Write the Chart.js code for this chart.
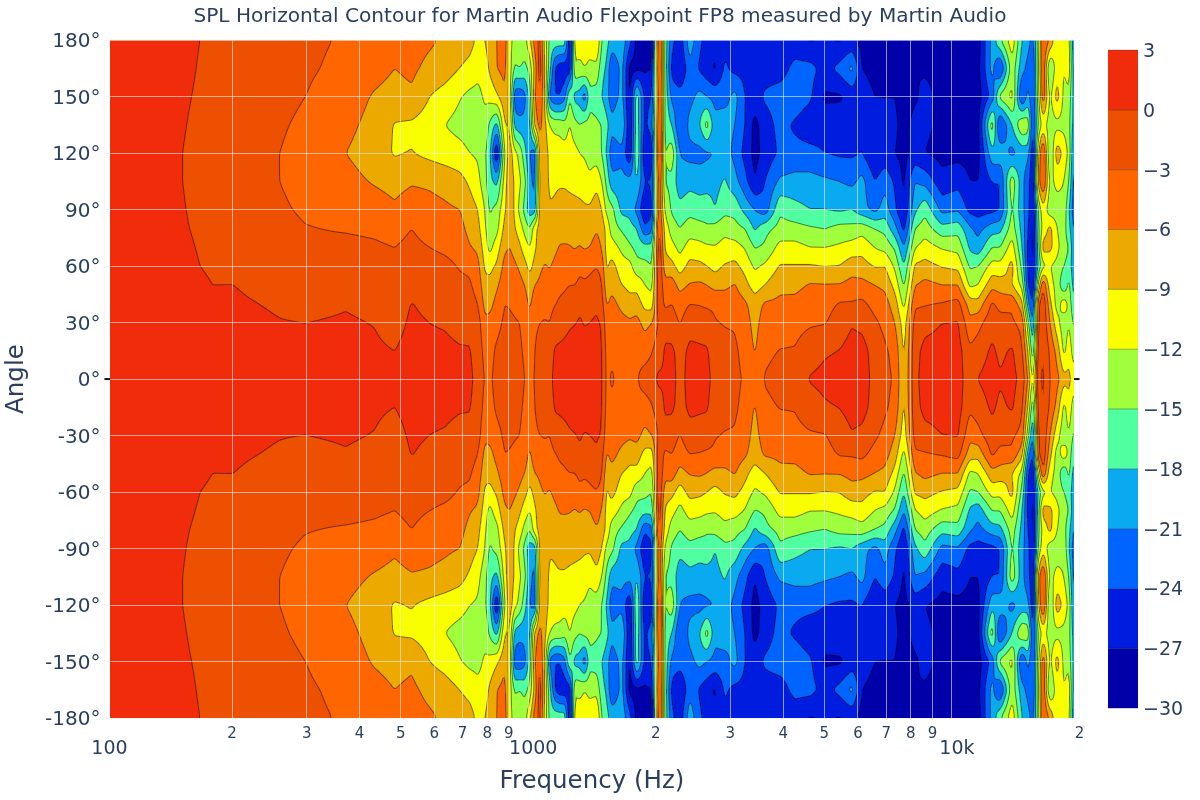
<!DOCTYPE html>
<html><head><meta charset="utf-8">
<script src="https://cdn.jsdelivr.net/npm/chart.js@4"></script>
<style>html,body{margin:0;padding:0;background:#fff}canvas{display:block}</style>
</head><body><canvas id="c" width="1200" height="800"></canvas>
<script>
const titleText="SPL Horizontal Contour for Martin Audio Flexpoint FP8 measured by Martin Audio";
const angles=[0,15,30,40,50,60,70,80,90,105,120,135,150,165,180];
const frequencies=[103,128,150,168,180,200,259,298,371,434,484,531,585,635,689,728,760,790,811,843,880,904,929,955,981,1008,1036,1065,1094,1124,1155,1187,1219,1253,1288,1323,1359,1397,1451,1491,1532,1575,1663,1737,1804,1884,1957,2022,2044,2101,2182,2279,2406,2541,2640,2757,2911,3074,3245,3426,3618,3926,4259,4621,5013,5439,5806,6131,6580,6947,7335,7703,8178,8635,9471,10332,11028,11519,12433,12983,13860,14634,15118,15536,15959,16401,17038,17701,18390,18893,19410];
// SPL (dB) at each frequency, one value per entry of angles
const f103=[2,2,2,2,2,2,2,2,2,2,2,2,2,2,2];
const f128=[2,2,2,2,2,1.8,1.6,1.4,1.3,1.2,1.2,1.3,1.4,1.6,1.6];
const f150=[2,2,2,2,2,1.5,1,.6,.4,.2,.2,.4,.6,.9,1];
const f168=[2,2,1.5,1.2,.7,0,-.3,-.6,-.8,-1,-1,-.7,-.4,-.2,0];
const f180=[1.8,1.5,1,.6,0,-.6,-.9,-1,-1.2,-1.4,-1.4,-1.2,-.9,-.7,-.5];
const f200=[1.5,1,.7,.4,.05,-.9,-1.1,-1.3,-1.5,-1.7,-1.8,-1.6,-1.3,-1.2,-1];
const f259=[1.3,.8,.1,-.3,-1,-1.6,-2,-2.4,-2.7,-3,-3,-2.7,-2.3,-2,-1.8];
const f298=[1,.6,0,-.8,-1.4,-2,-2.5,-2.9,-3.3,-3.7,-3.9,-3.5,-3,-2.6,-2.4];
const f371=[1.2,.8,.3,-.2,-1.2,-1.9,-2.4,-3.2,-3.9,-5,-6,-5.2,-4.5,-3.7,-3.3];
const f434=[1,.4,-.1,-.7,-1.4,-2,-2.7,-3.4,-4.5,-6.3,-7.5,-7,-6.3,-5,-4];
const f484=[.8,0,-1,-1.5,-2,-2.5,-3,-3.8,-5.5,-7,-9.3,-9.2,-7,-6,-4.6];
const f531=[1.4,1,.5,.1,-1.1,-1.8,-2.4,-3,-4.4,-6.3,-8.9,-9.5,-6.5,-5.4,-4.8];
const f585=[1,.5,0,-.7,-1.3,-2,-3,-4,-5,-6.5,-9.8,-10.5,-9,-6.8,-5.5];
const f635=[1,.5,-.2,-1,-1.8,-2.3,-3.5,-4.5,-5.5,-7,-10.5,-12,-10.2,-7.5,-6.5];
const f689=[.8,.2,-.7,-1.5,-2.4,-3.2,-4,-5,-6,-8,-11,-13,-11.8,-9,-7.5];
const f728=[.5,.1,-.5,-2,-2.7,-3.5,-5.8,-7,-7.7,-9.5,-12,-13.5,-12.8,-9.8,-8];
const f760=[-.8,-1,-1.5,-3,-4,-5,-6.7,-8,-9,-11,-12.5,-14,-13,-11,-9.5];
const f790=[-3.2,-4,-5.5,-6.8,-8,-9.5,-10.5,-11.5,-12,-14,-14.5,-13,-11.5,-10.5,-9];
const f811=[-3.5,-4,-5,-7,-8,-10,-13,-14,-15.5,-17,-17,-15.5,-11,-8.5,-7.5];
const f843=[-2,-2.5,-3.8,-5,-6.5,-8.5,-10.5,-13,-14,-19,-28,-19,-9.5,-6,-6];
const f880=[-1.5,-2,-2.5,-3,-4,-5,-6.5,-8,-9.5,-10.5,-12,-9,-6.5,-5,-4];
const f904=[-1.5,-2,-2.5,-3.2,-4,-4.8,-6,-6.2,-6.5,-6.5,-7,-9,-10,-10.5,-11];
const f929=[-1.5,-2,-2.8,-3.5,-4.5,-5.5,-7,-8.8,-9.5,-9.5,-11,-19,-23,-15.5,-13];
const f955=[-2,-2.5,-3,-3.8,-5,-6.5,-8.5,-10.5,-13,-11.5,-13,-20,-23.5,-15,-11.8];
const f981=[-3,-3.5,-4,-4.8,-6,-8,-10.5,-13,-16,-14,-17,-20,-22,-16,-13];
const f1008=[-4,-4.5,-5,-6.5,-7.5,-10,-12,-15,-20,-20,-21,-19,-17,-14,-9.5];
const f1036=[-2.8,-3,-3.5,-4.5,-6,-8,-9.5,-10,-20,-22,-23,-8,-6,-8,-4.5];
const f1065=[-2,-2,-3,-4.3,-5.5,-6.5,-7.5,-7.8,-7.5,-8,-7,-5,-3,-1,-2];
const f1094=[-1,-1.5,-2.8,-3.8,-4.8,-5.8,-7,-7.3,-7.5,-7.5,-7,-8,-9,-9,-10];
const f1124=[-.8,-1.5,-3,-4,-5,-6.2,-7,-8,-8.8,-9.5,-10,-12,-22,-17,-16];
const f1155=[.8,.3,-1.5,-3.2,-4,-5.5,-6.5,-7.8,-8.5,-9.5,-10,-13,-24,-24,-16];
const f1187=[1,.5,-1.2,-2.6,-3.6,-5,-5.8,-7,-7.5,-9.5,-10.5,-13,-24,-26,-16];
const f1219=[1.2,.7,-.8,-2.4,-3.3,-4.8,-5.8,-6.8,-7.5,-9.5,-10.5,-14,-22,-26,-16];
const f1253=[1.3,.9,-.3,-2,-3,-4.5,-5.9,-6.8,-7.8,-9.8,-10.3,-11.8,-15,-26,-27];
const f1288=[1.4,1,-.1,-1.8,-3,-4.6,-6.2,-7,-8,-10,-11,-14,-19,-12.5,-10.5];
const f1323=[1.5,1.2,.3,-.4,-2.4,-3.6,-5.9,-6.8,-8,-10.5,-12,-15,-19.5,-13,-10];
const f1359=[1.5,1.2,-.2,-1.2,-2.6,-4,-6.3,-7.2,-8.5,-10.8,-12.3,-14,-23,-12,-10];
const f1397=[1.5,1.2,0,-.8,-2.2,-3.7,-6,-7,-8.5,-11.5,-13,-14,-16,-13,-10];
const f1451=[1.4,1.1,.3,-.3,-1.2,-3.2,-5,-6.2,-7,-10,-13.5,-14.5,-16.5,-13,-8.5];
const f1491=[.3,.2,-.2,-1.8,-2.8,-4.2,-6.2,-7,-9,-12,-15,-15,-18,-17,-15];
const f1532=[-3.7,-3.9,-5,-6.3,-8,-9.5,-10,-10,-13,-16,-18.5,-17,-20,-18.5,-17];
const f1575=[-2.6,-3.5,-4.5,-5,-7,-8,-10.5,-13.5,-14,-20,-23,-20,-23,-24,-19];
const f1663=[-4.3,-4.6,-5,-6.8,-9,-10.5,-12.8,-15.5,-19,-20,-22,-18,-20,-20,-19];
const f1737=[-4.2,-4.5,-5.5,-8,-9.8,-11,-14.5,-17,-19,-20,-27,-27,-28,-28,-23];
const f1804=[-3.2,-3.5,-5,-7.5,-10,-14,-16,-18,-22,-18,-15,-16,-16,-28,-28];
const f1884=[-2,-4,-7,-10,-12,-14,-17,-23.5,-27,-24,-27,-25,-25,-27.5,-28];
const f1957=[-1.5,-3.2,-6,-10.5,-13,-15,-17,-22,-25,-23.5,-27,-22,-24,-27,-28];
const f2022=[.5,-1.5,-3,-2,-2,-2,-3,-4,-7,-7,-4,-6,-7,-5,-7];
const f2044=[1,-2.5,-2.5,-1,-.5,-.8,-1.5,-2.5,-4,-3,-1,-1,-2,-1,-1];
const f2101=[.8,.6,-1.5,-3.5,-5,-7.5,-9.3,-10,-12.5,-15,-15.5,-16,-15.5,-16,-16];
const f2182=[1,.5,-1.5,-3,-4.5,-8,-11,-13.5,-15.5,-16,-13,-18,-22,-25,-23];
const f2279=[-1,-1,-3.2,-4.5,-7,-10.5,-13,-15,-17,-20,-21,-24.5,-22.5,-27.5,-26];
const f2406=[1,.6,-1,-3,-5.8,-8,-10.7,-13.5,-16,-19,-22,-20,-22,-22,-19];
const f2541=[.9,.4,-1.2,-3.2,-5.5,-8.3,-11,-14,-16.5,-19.5,-22,-18,-20,-24.5,-23.5];
const f2640=[.8,.3,-1.5,-3.5,-6,-9,-11.5,-14.7,-16,-19.5,-21.5,-13.5,-21,-26,-25];
const f2757=[-1,-1.5,-2.8,-3.5,-7,-10,-11.8,-14,-18,-19,-21,-20,-22,-27.5,-26];
const f2911=[-1.5,-2,-3.2,-4.5,-6.6,-8.7,-11,-12.8,-16,-17.7,-19.5,-19.5,-22,-23.5,-25];
const f3074=[-2.2,-2.5,-3.3,-4.4,-5.8,-8.2,-10.8,-14,-16,-20,-22,-21,-20,-25,-25.5];
const f3245=[-3.4,-4,-4.7,-5.5,-8,-10,-12.2,-15,-19,-23,-25,-24,-24,-25,-26];
const f3426=[-5,-6.2,-7,-7.5,-10.5,-12.5,-15.2,-18.5,-21,-27,-28,-28,-25.5,-27,-27];
const f3618=[-2.8,-3.6,-4.6,-5.6,-9,-11.5,-14.5,-16,-23,-24,-26,-25.5,-23.5,-25.5,-27];
const f3926=[-2,-2.9,-4.3,-5.4,-6.7,-8.8,-11,-14,-15.5,-20.5,-23.5,-23,-22.5,-25.5,-27];
const f4259=[-1.7,-2.8,-4,-5.2,-6.8,-8.8,-11,-14,-17,-20,-23,-24.5,-22,-23,-26];
const f4621=[.2,-1.2,-3.4,-4.6,-5.7,-8.7,-12,-14.6,-18,-20,-23,-26,-23.5,-23,-27.5];
const f5013=[.7,-.3,-3.2,-4.1,-5.8,-9.1,-12,-15.1,-18,-20.5,-24,-25.5,-27.5,-25,-27];
const f5439=[.9,.1,-1.5,-2.7,-5.8,-8.9,-11.5,-14,-18.5,-21,-24.5,-25,-27.5,-23,-27.5];
const f5806=[1.3,1,-.2,-2.7,-5,-7.3,-10.8,-14,-18,-21.7,-24.5,-25,-26,-20,-26.5];
const f6131=[1.5,1.2,-.8,-2.3,-5,-7.9,-10,-13.3,-20,-20,-24,-24,-25.5,-27,-28];
const f6580=[-1,-1.3,-2.5,-4,-6,-9.2,-12.1,-15,-22,-24,-27,-26,-27,-28,-29];
const f6947=[-2,-2.5,-3.8,-4.8,-6.7,-9,-13,-16,-19.5,-22,-26,-26.5,-27,-28.5,-29];
const f7335=[-3.5,-4,-6,-7.5,-10,-12.6,-15.5,-20,-23.5,-24.5,-27,-26.5,-27,-28.5,-29];
const f7703=[-9,-9.5,-10.5,-13,-15.5,-18,-21,-25,-27,-27.5,-28,-28,-28.5,-29,-29];
const f8178=[-.8,-.9,-1.8,-3.5,-6.2,-8.5,-12.3,-15,-18.8,-21,-26,-26,-27.5,-27,-28];
const f8635=[1.3,.8,-.9,-3.3,-5.1,-8,-10.6,-13.5,-15.8,-22,-27,-26.5,-26,-27.5,-27.5];
const f9471=[1.5,1,0,-2.8,-6,-9.2,-12.3,-17,-22,-26,-28,-27.5,-28,-28,-28];
const f10332=[1.5,1.2,.2,-2,-6,-9.8,-13,-16.2,-21.5,-25,-28,-28,-28,-28,-28];
const f11028=[-2,-2.4,-5.2,-7.5,-12.7,-15.5,-18.6,-20.5,-25,-27,-28,-28,-28.5,-28,-28.5];
const f11519=[.1,-1.5,-4,-8,-12,-15,-20,-22,-25.5,-27,-28,-28,-28.5,-28,-28.5];
const f12433=[1.3,.5,-1,-2.5,-7,-10.8,-15,-19.5,-25,-24,-19,-13,-23,-20,-20];
const f12983=[.3,-.6,-1.8,-4,-7.5,-11,-15,-19,-24,-24,-19,-25,-14,-25,-15];
const f13860=[1,.4,-2.5,-3.5,-9,-8,-10.5,-13.5,-14.5,-13,-22,-18,-11,-13,-10];
const f14634=[-1,-2.5,-4,-8,-13,-16,-18,-19,-20,-20,-20,-12,-25,-20,-18];
const f15118=[-6,-9,-14,-20,-24,-25,-25,-24,-23,-23,-20,-13,-20,-22,-20];
const f15536=[-13,-18,-22,-25,-27,-27,-28,-28,-28,-27,-27,-25,-24,-24,-22];
const f15959=[-1,-2,-3.5,-4,-12,-18,-17,-16,-15,-8,-10,-15,-14,-13,-14];
const f16401=[.5,.2,-.5,-.5,-3,-13,-7.5,-11,-10,-2,-1.5,-11,-3.5,-3,-3];
const f17038=[-3,-3.5,-6,-8,-11,-12,-8,-8,-14,-13,-16,-13.5,-13,-16,-6];
const f17701=[-5,-7,-11,-13.5,-13,-13,-11,-12,-13.5,-11,-7,-13,-7.5,-10,-12];
const f18390=[-8,-13,-14,-10,-18,-15,-14,-14,-13,-12,-10,-13,-13,-12,-10];
const f18893=[-8,-10,-12,-13,-14,-16,-15,-17,-18,-15,-13,-14,-13,-10,-11];
const f19410=[-11,-14,-16,-18,-20,-21,-21,-22,-23,-23,-22,-20,-20,-21,-22];
const splColumns=[f103,f128,f150,f168,f180,f200,f259,f298,f371,f434,f484,f531,f585,f635,f689,f728,f760,f790,f811,f843,f880,f904,f929,f955,f981,f1008,f1036,f1065,f1094,f1124,f1155,f1187,f1219,f1253,f1288,f1323,f1359,f1397,f1451,f1491,f1532,f1575,f1663,f1737,f1804,f1884,f1957,f2022,f2044,f2101,f2182,f2279,f2406,f2541,f2640,f2757,f2911,f3074,f3245,f3426,f3618,f3926,f4259,f4621,f5013,f5439,f5806,f6131,f6580,f6947,f7335,f7703,f8178,f8635,f9471,f10332,f11028,f11519,f12433,f12983,f13860,f14634,f15118,f15536,f15959,f16401,f17038,f17701,f18390,f18893,f19410];
const levels=[-30,-27,-24,-21,-18,-15,-12,-9,-6,-3,0,3];
const bandColors=[[0,0,170],[0,28,222],[0,100,255],[10,170,240],[80,255,160],[160,255,60],[250,255,0],[236,170,0],[255,102,0],[236,80,0],[240,44,10]];
const xTicks=[100,200,300,400,500,600,700,800,900,1000,2000,3000,4000,5000,6000,7000,8000,9000,10000,20000];
const xLabels={100:"100",200:"2",300:"3",400:"4",500:"5",600:"6",700:"7",800:"8",900:"9",1000:"1000",2000:"2",3000:"3",4000:"4",5000:"5",6000:"6",7000:"7",8000:"8",9000:"9",10000:"10k",20000:"2"};
const majorTicks=[100,1000,10000];
const ink="#2a3f5f", FONT="'DejaVu Sans',Verdana,sans-serif";

function rows(){ // measured half is mirrored about 0 deg
  const pts=[];
  frequencies.forEach((f,i)=>angles.forEach((a,j)=>{
    pts.push({x:f,y:a,v:splColumns[i][j]});
    if(a>0)pts.push({x:f,y:-a,v:splColumns[i][j]});
  }));
  return pts;
}
function noPad(s){s.paddingTop=0;s.paddingBottom=0;s.paddingLeft=0;s.paddingRight=0;}
function segIndex(arr,v){let i=0;while(i<arr.length-2&&arr[i+1]<v)i++;return i;}
const contour={id:'contour',
  beforeDatasetsDraw(chart){
    const X=chart.scales.x,Y=chart.scales.y,ctx=chart.ctx;
    const x0=Math.round(X.getPixelForValue(frequencies[0])),x1=Math.round(X.getPixelForValue(frequencies[frequencies.length-1]));
    const y0=Math.round(Y.getPixelForValue(180)),y1=Math.round(Y.getPixelForValue(-180));
    const w=x1-x0,h=y1-y0;
    const logF=frequencies.map(Math.log10);
    let F=new Float32Array(w*h);
    for(let py=0;py<h;py++){
      const a=Math.min(180,Math.abs(Y.getValueForPixel(y0+py+.5)));
      const j=segIndex(angles,a),tj=(a-angles[j])/(angles[j+1]-angles[j]);
      for(let px=0;px<w;px++){
        const lf=Math.log10(X.getValueForPixel(x0+px+.5));
        const c=Math.max(logF[0],Math.min(logF[logF.length-1],lf));
        const i=segIndex(logF,c),ti=(c-logF[i])/(logF[i+1]-logF[i]);
        const A=splColumns[i],B=splColumns[i+1];
        F[py*w+px]=(A[j]*(1-ti)+B[j]*ti)*(1-tj)+(A[j+1]*(1-ti)+B[j+1]*ti)*tj;
      }
    }
    const blur=(src,rx,ry)=>{
      const t=new Float32Array(w*h),o=new Float32Array(w*h);
      for(let y=0;y<h;y++)for(let x=0;x<w;x++){let s=0,n=0;for(let k=-rx;k<=rx;k++){const q=x+k;if(q>=0&&q<w){s+=src[y*w+q];n++;}}t[y*w+x]=s/n;}
      for(let y=0;y<h;y++)for(let x=0;x<w;x++){let s=0,n=0;for(let k=-ry;k<=ry;k++){const q=y+k;if(q>=0&&q<h){s+=t[q*w+x];n++;}}o[y*w+x]=s/n;}
      return o;};
    F=blur(blur(F,1,3),1,3);
    const off=document.createElement('canvas');off.width=w;off.height=h;
    const oc=off.getContext('2d'),img=oc.createImageData(w,h),D=img.data;
    for(let y=0;y<h;y++)for(let x=0;x<w;x++){
      const v=F[y*w+x];
      const xa=F[y*w+Math.min(w-1,x+1)]-F[y*w+Math.max(0,x-1)],ya=F[Math.min(h-1,y+1)*w+x]-F[Math.max(0,y-1)*w+x];
      const g=Math.max(1e-4,Math.hypot(xa,ya)/2);
      let b=Math.floor((v+30)/3);b=Math.max(0,Math.min(bandColors.length-1,b));
      const col=bandColors[b];
      const near=Math.round(v/3)*3;
      let al=0;
      if(near>-30&&near<3){const d=Math.abs(v-near)/g;al=Math.max(0,Math.min(1,1-d))*.5;}
      const k=y*w*4+x*4;
      D[k]=col[0]*(1-al);D[k+1]=col[1]*(1-al);D[k+2]=col[2]*(1-al);D[k+3]=255;
    }
    oc.putImageData(img,0,0);
    ctx.save();ctx.drawImage(off,x0,y0);ctx.restore();
    // colour bar, placed by its own axis
    const C=chart.scales.cb,bx=1108,bw=30;
    bandColors.forEach((c,i)=>{
      const t=C.getPixelForValue(levels[i+1]),bt=C.getPixelForValue(levels[i]);
      ctx.fillStyle=`rgb(${c})`;ctx.fillRect(bx,t,bw,bt-t);
    });
    ctx.fillStyle='rgba(0,0,0,.3)';
    levels.forEach(l=>ctx.fillRect(bx,C.getPixelForValue(l)-.5,bw,1));
  },
  beforeDraw(chart){
    const X=chart.scales.x;
    X.getLabelItems(chart.chartArea).forEach((it,i)=>{
      if(it.__moved)return;it.__moved=true;
      const t=it.options.translation;
      if(majorTicks.includes(X.ticks[i].value)){t[0]+=5;t[1]+=13;}
    });
    [chart.scales.y,chart.scales.cb].forEach(S=>S.getLabelItems(chart.chartArea).forEach(it=>{
      if(it.__moved)return;it.__moved=true;it.options.translation[1]+=2;
    }));
  },
  afterDraw(chart){
    const ctx=chart.ctx,X=chart.scales.x,Y=chart.scales.y,y=Y.getPixelForValue(0);
    ctx.fillStyle='#111';
    const a=X.getPixelForValue(100),b=X.getPixelForValue(frequencies[0]);
    const c=X.getPixelForValue(frequencies[frequencies.length-1]),d=X.getPixelForValue(20000);
    ctx.fillRect(a,y-1,b-a,2);ctx.fillRect(c,y-1,d-c,2);
  }
};
new Chart(document.getElementById('c'),{
  type:'scatter',
  data:{datasets:[{label:'SPL',data:rows(),pointRadius:0,pointHoverRadius:0,showLine:false}]},
  plugins:[contour],
  options:{
    responsive:false,animation:false,devicePixelRatio:1,events:[],
    layout:{padding:0},
    plugins:{legend:{display:false},tooltip:{enabled:false},
      title:{display:true,text:titleText,color:ink,font:{family:FONT,size:20.1,weight:'normal',lineHeight:1.2},padding:{top:5,bottom:11}}},
    scales:{
      x:{type:'logarithmic',min:100,max:20000,position:'bottom',
        afterFit(s){s.height=82;noPad(s);},
        afterBuildTicks(s){s.ticks=xTicks.map(value=>({value,major:majorTicks.includes(value)}));},
        grid:{color:'rgba(235,240,248,.6)',lineWidth:1,z:1,drawTicks:false},border:{display:false},
        ticks:{autoSkip:false,maxRotation:0,minRotation:0,padding:7,color:ink,
          font:c=>({family:FONT,size:c.tick&&majorTicks.includes(c.tick.value)?19:15}),
          callback:v=>xLabels[v]},
        title:{display:true,text:'Frequency (Hz)',color:ink,font:{family:FONT,size:24.5},padding:{top:0,bottom:4}}},
      y:{type:'linear',min:-180,max:180,position:'left',
        afterFit(s){s.width=104.5;noPad(s);},
        grid:{color:'rgba(235,240,248,.6)',lineWidth:1,z:1,drawTicks:false},border:{display:false},
        ticks:{stepSize:30,padding:4,color:ink,autoSkip:false,font:{family:FONT,size:20},callback:v=>v+'°'},
        title:{display:true,text:'Angle',color:ink,font:{family:FONT,size:24.5},padding:{top:2,bottom:0}}},
      cb:{type:'linear',min:-30.5,max:3.5,position:'right',
        afterFit(s){s.width=120.5;noPad(s);},
        afterBuildTicks(s){s.ticks=[3,0,-3,-6,-9,-12,-15,-18,-21,-24,-27,-30].map(value=>({value}));},
        grid:{display:false,drawTicks:false},border:{display:false},
        ticks:{padding:63.5,color:ink,autoSkip:false,font:{family:FONT,size:19},callback:v=>String(v).replace('-','\u2212')}}
    }
  }
});
</script></body></html>
